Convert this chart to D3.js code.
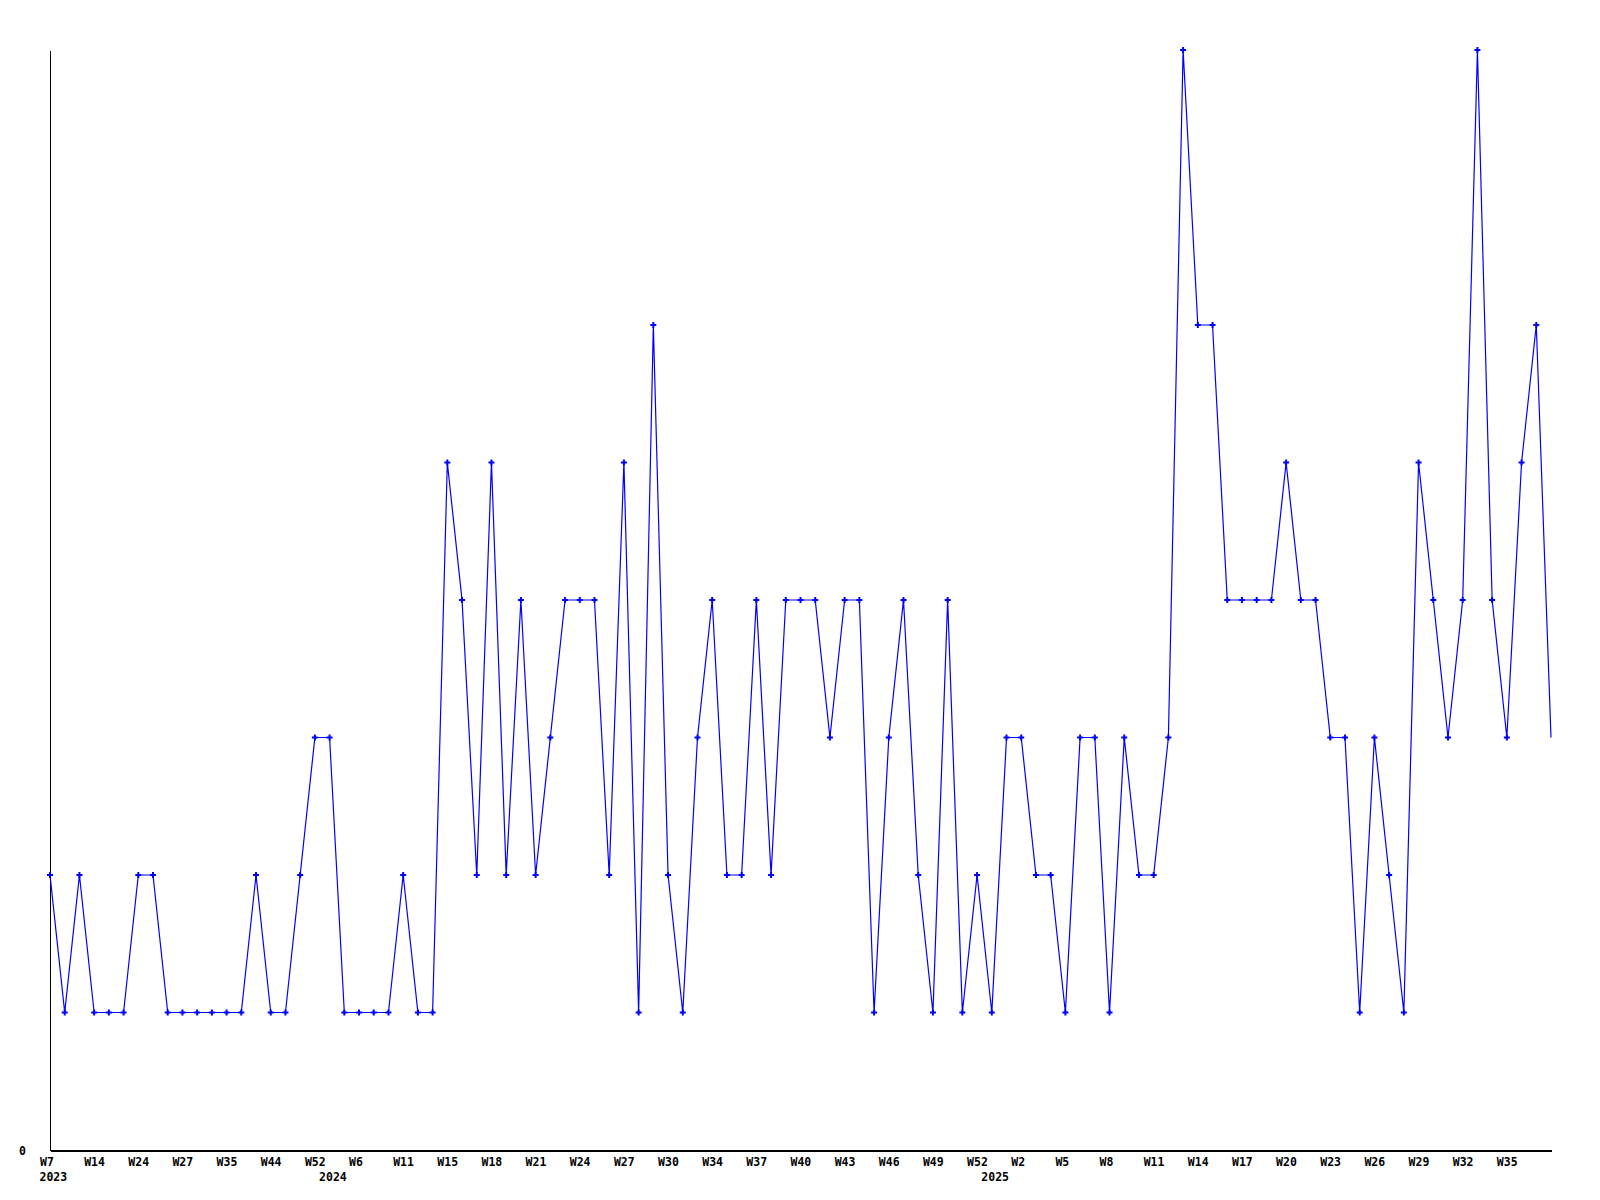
<!DOCTYPE html>
<html>
<head>
<meta charset="utf-8">
<script src="https://cdn.jsdelivr.net/npm/d3@7"></script>
<style>
  body { margin: 0; background: #fff; }
  text { font-family: "DejaVu Sans Mono", monospace; font-weight: bold; font-size: 11.5px; fill: #000; }
</style>
</head>
<body>
<div id="chart-area"></div>
<script>
// one value per week, starting 2023 W7
var values = [
  2,1,2,1,1,1,2,2,1,1,1,1,1,1,2,1,1,2,3,3,
  1,1,1,1,2,1,1,5,4,2,5,2,4,2,3,4,4,4,2,5,
  1,6,2,1,3,4,2,2,4,2,4,4,4,3,4,4,1,3,4,2,
  1,4,1,2,1,3,3,2,2,1,3,3,1,3,2,2,3,8,6,6,
  4,4,4,4,5,4,4,3,3,1,3,2,1,5,4,3,4,8,4,3,
  5,6,3
];

// every third week gets a label
var weekLabels = ["W7","W14","W24","W27","W35","W44","W52","W6","W11","W15",
  "W18","W21","W24","W27","W30","W34","W37","W40","W43","W46",
  "W49","W52","W2","W5","W8","W11","W14","W17","W20","W23",
  "W26","W29","W32","W35"];

var yearIndex = [0, 19, 64];
var yearLabels = ["2023", "2024", "2025"];

var yTicks = [0];

var margin = {left:50, right:49, top:50, bottom:50};
var width = 1600 - margin.left - margin.right,
    height = 1200 - margin.top - margin.bottom;

var svg = d3.select("#chart-area")
      .append("svg")
        .attr("width", 1600)
        .attr("height", 1200);

var group = svg.append("g")
      .attr("transform", "translate(" + margin.left + ", " + margin.top + ")");

var x = d3.scaleLinear()
      .domain([0, values.length - 1])
      .range([0, width]);

var y = d3.scaleLinear()
      .domain([0, 8])
      .range([height, 0]);

// x axis, labels start a bit left of the point
var xAxisCall = d3.axisBottom(x)
      .tickValues(weekLabels.map(function(d, i){ return i * 3; }))
      .tickFormat(function(d){ return weekLabels[d / 3]; })
      .tickSize(0)
      .tickSizeOuter(0);

var xAxis = group.append("g")
      .attr("class", "x axis")
      .attr("transform", "translate(0, " + height + ")")
      .call(xAxisCall);
xAxis.attr("font-family", null).attr("font-size", null).attr("text-anchor", "start");
xAxis.select(".domain").attr("stroke", "#000").attr("stroke-width", 2).attr("shape-rendering", "crispEdges");
xAxis.selectAll("text")
      .attr("x", -10.5)
      .attr("y", 16)
      .attr("dy", 0);

// year labels under the first week of each year
xAxis.selectAll(".year")
      .data(yearIndex)
    .enter()
      .append("text")
      .attr("class", "year")
      .attr("text-anchor", "start")
      .attr("x", function(d){ return x(d) - 10.5; })
      .attr("y", 31)
      .text(function(d, i){ return yearLabels[i]; });

// y axis with only the zero label
var yAxisCall = d3.axisLeft(y)
      .tickValues(yTicks)
      .tickSize(0)
      .tickSizeOuter(0);
var yAxis = group.append("g")
      .attr("class", "y axis")
      .call(yAxisCall);
yAxis.attr("font-family", null).attr("font-size", null);
yAxis.select(".domain").attr("stroke", "#000").attr("stroke-width", 1.5).attr("shape-rendering", "crispEdges");
yAxis.selectAll("text")
      .attr("text-anchor", "start")
      .attr("x", -31)
      .attr("dy", "0.35em");

var line = d3.line()
      .x(function(d, i){ return x(i); })
      .y(function(d){ return y(d); });

group.append("path")
      .datum(values)
      .attr("fill", "none")
      .attr("stroke", "#0000ff")
      .attr("stroke-width", 1.2)
      .attr("d", line);

// markers on every point but the last
group.selectAll(".dot")
      .data(values.slice(0, values.length - 1))
    .enter()
      .append("path")
      .attr("class", "dot")
      .attr("transform", function(d, i){ return "translate(" + x(i) + "," + y(d) + ")"; })
      .attr("d", d3.symbol().type(d3.symbolCross).size(20))
      .attr("fill", "#0000ff");
</script>
</body>
</html>
